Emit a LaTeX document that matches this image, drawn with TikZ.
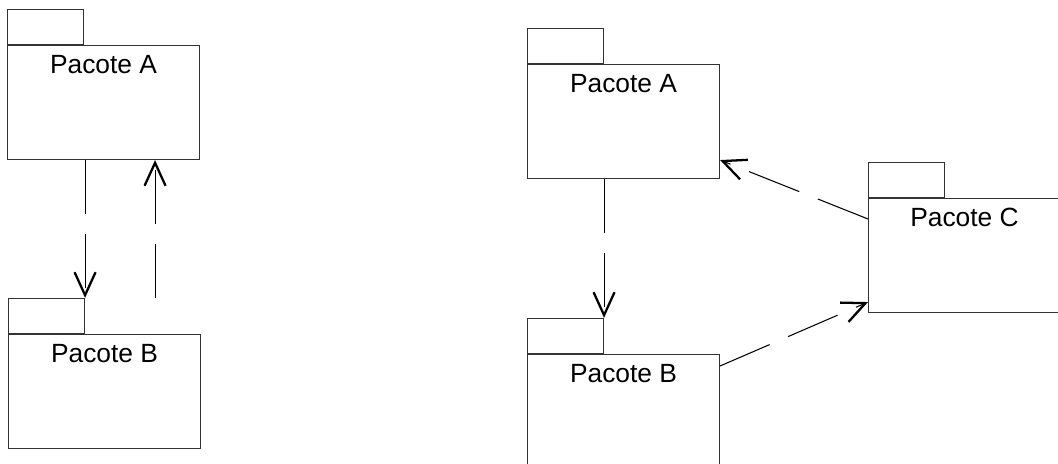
\documentclass[tikz,border=0pt]{standalone}
\usepackage{fontspec}
\setmainfont{Liberation Sans}
\usepackage{tikz}
\usetikzlibrary{arrows.meta, positioning}

\begin{document}
\begin{tikzpicture}[
    pkg/.style={rectangle, draw=black!80, line width=0.6pt, anchor=north west,
                minimum width=3.84cm, inner sep=0pt,
                text height=0.56cm, text depth=1.72cm,
                font=\fontsize{15}{18}\selectfont},
    tab/.style={rectangle, draw=black!80, line width=0.6pt, anchor=south west,
                minimum width=1.52cm, minimum height=0.70cm, inner sep=0pt},
    dep/.style={-{Straight Barb[length=0.46cm, width=0.42cm, line width=1.3pt]},
                line width=0.6pt, dash pattern=on 1.08cm off 0.4cm}
]
\useasboundingbox (0,0) rectangle (21.16,-9.28);
\clip (0,0) rectangle (21.16,-9.28);

% left side
\node[pkg] (aL) at (0.14,-0.90) {Pacote A};
\node[tab] (taL) at (aL.north west) {};
\node[pkg] (bL) at (0.16,-6.68) {Pacote B};
\node[tab] (tbL) at (bL.north west) {};

% right side
\node[pkg] (aR) at (10.54,-1.28) {Pacote A};
\node[tab] (taR) at (aR.north west) {};
\node[pkg] (bR) at (10.54,-7.08) {Pacote B};
\node[tab] (tbR) at (bR.north west) {};
\node[pkg] (cR) at (17.36,-3.96) {Pacote C};
\node[tab] (tcR) at (cR.north west) {};

\draw[dep] (aL.south -| tbL.north east) -- (tbL.north east);
\draw[dep] ([xshift=-0.90cm]aL.south east |- tbL.north) -- ([xshift=-0.90cm]aL.south east);

\draw[dep] (aR.south -| tbR.north east) -- (tbR.north east);
\draw[dep] ([yshift=-0.42cm]cR.north west) -- ([yshift=0.38cm]aR.south east);
\draw[dep] ([yshift=-0.24cm]bR.north east) -- ([yshift=0.22cm]cR.south west);

\end{tikzpicture}
\end{document}
